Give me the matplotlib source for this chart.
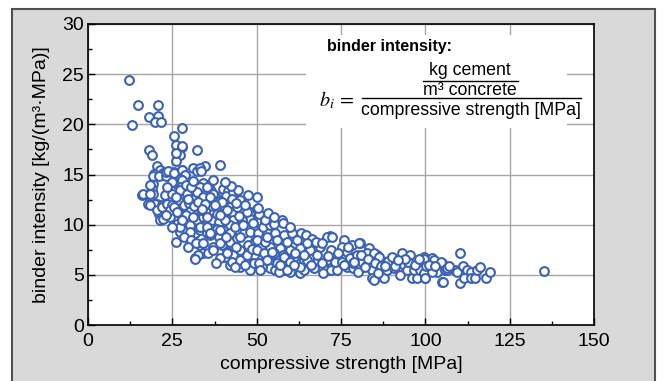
import matplotlib
matplotlib.use("Agg")
import matplotlib.pyplot as plt
from matplotlib.patches import Rectangle
from matplotlib.ticker import MultipleLocator

plt.rcParams['font.family'] = ['Liberation Sans', 'DejaVu Sans']

# compressive strength [MPa], binder intensity [kg/(m3*MPa)]
pts = [
    # low strength, sparse top
    (12.3, 24.4), (13.0, 19.9), (14.9, 21.9), (20.8, 21.9), (18.0, 20.7), (20.8, 20.8),
    (19.8, 20.2), (21.5, 20.2), (18.2, 17.4), (18.9, 16.9), (20.4, 15.8), (21.2, 15.45),
    (19.7, 15.05), (22.2, 15.1), (16.1, 13.0), (16.4, 13.05), (18.4, 12.45), (19.4, 14.1),
    (18.9, 13.6), (19.4, 13.1), (20.4, 12.1), (17.9, 12.1), (19.9, 12.1), (21.9, 12.0),
    (18.4, 12.0), (20.9, 11.1), (21.4, 10.5), (22.3, 10.6), (18.5, 14.0), (18.5, 13.1),
    (19.3, 14.9), (21.0, 14.9), (23.0, 14.9), (23.1, 15.25), (25.6, 15.2), (27.9, 15.4),
    (26.6, 14.9), (20.4, 11.5), (22.0, 11.8),
    # 24-35 MPa
    (28.0, 19.6), (25.6, 18.8), (26.0, 17.9), (28.0, 17.7), (27.3, 16.9), (26.1, 16.3),
    (32.2, 17.4), (26.1, 17.1), (27.8, 17.8), (23.8, 15.3), (25.5, 15.1), (27.8, 15.45),
    (28.8, 14.95), (31.2, 15.6), (32.2, 15.3), (34.7, 15.8), (33.2, 15.6), (33.6, 15.3),
    (27.3, 14.6), (27.8, 14.3), (26.3, 14.1), (27.0, 14.2), (28.0, 14.5), (27.5, 13.8),
    (34.2, 14.2), (33.1, 13.8), (22.8, 12.95), (24.8, 13.1), (27.3, 13.45), (26.8, 12.45),
    (29.3, 13.1), (30.8, 12.6), (32.2, 13.3), (34.2, 12.8), (23.4, 12.1), (24.8, 12.0),
    (24.3, 10.8), (26.3, 10.1), (27.3, 9.3), (29.3, 9.5), (30.3, 10.0), (31.8, 9.15),
    (33.2, 9.5), (34.7, 10.0), (35.2, 9.15), (26.1, 8.3), (33.2, 8.0), (34.2, 7.15),
    (31.8, 6.65), (32.7, 7.0), (31.8, 6.55), (27.3, 11.1), (30.3, 11.5), (32.3, 10.5),
    (24.3, 11.5), (27.3, 9.8), (30.3, 9.3), (33.2, 9.8), (25.5, 11.8), (28.5, 12.0),
    (30.0, 12.2), (26.0, 12.8), (29.0, 11.0), (31.0, 10.8), (28.0, 10.5), (25.0, 9.8),
    (28.5, 8.8), (30.5, 8.5), (32.0, 8.2), (29.5, 7.8), (34.0, 10.8), (33.5, 11.5),
    (31.5, 11.9), (35.0, 11.3), (34.0, 11.8), (29.0, 14.0), (30.5, 13.8), (25.0, 14.3),
    (23.5, 13.8), (31.0, 14.4), (29.5, 12.6), (26.5, 11.3), (23.0, 11.0), (32.5, 12.3),
    # 35-50 MPa
    (35.9, 13.8), (36.4, 13.4), (37.6, 12.9), (39.9, 13.6), (41.6, 13.4), (41.0, 12.9),
    (42.8, 12.5), (39.1, 12.4), (40.0, 12.0), (39.2, 15.9), (35.2, 13.8), (37.2, 13.1),
    (36.2, 12.8), (34.7, 12.1), (33.7, 11.6), (43.1, 13.3), (42.6, 12.6), (45.1, 12.5),
    (39.7, 12.3), (42.1, 11.8), (42.6, 11.3), (46.1, 11.5), (48.1, 11.3), (50.1, 11.6),
    (50.6, 11.1), (48.1, 10.6), (45.6, 10.5), (43.1, 10.5), (42.1, 10.0), (37.2, 11.1),
    (36.7, 10.5), (38.7, 10.3), (35.2, 9.8), (38.2, 9.6), (40.1, 9.5), (36.2, 9.0),
    (38.7, 8.8), (34.2, 8.15), (37.2, 7.8), (39.7, 8.0), (42.1, 8.3), (44.1, 8.65),
    (46.1, 9.15), (49.1, 9.5), (41.2, 7.3), (43.1, 7.0), (45.1, 7.5), (46.6, 6.5),
    (49.1, 7.0), (45.1, 5.8), (42.1, 6.0), (48.1, 5.5), (40.6, 6.8), (39.1, 6.65),
    (35.7, 7.15), (37.2, 7.5), (39.2, 8.15), (41.2, 7.15), (42.6, 6.3), (45.1, 6.5),
    (47.1, 7.0), (49.1, 6.15), (35.2, 10.8), (38.2, 11.1), (41.2, 11.5), (44.1, 11.8),
    (47.1, 11.3), (36.2, 9.15), (39.2, 9.5), (42.1, 9.15), (45.1, 8.8), (48.1, 9.3),
    (50.5, 11.7), (44.0, 12.2), (46.5, 12.0), (47.5, 13.0), (44.5, 13.5), (43.5, 9.8),
    (46.0, 10.0), (40.5, 10.5), (37.5, 12.0), (39.0, 11.0), (41.0, 8.8), (44.0, 7.8),
    (47.5, 8.0), (49.5, 8.4), (38.0, 6.2), (43.5, 5.8), (46.5, 6.0), (48.5, 7.6),
    (42.5, 13.9), (40.5, 14.3), (37.0, 14.5), (44.8, 10.9), (49.0, 10.2), (50.0, 12.8),
    # 50-70 MPa
    (52.5, 10.3), (57.5, 10.5), (57.9, 10.2), (50.5, 9.15), (53.0, 9.3), (55.5, 9.15),
    (58.0, 9.0), (60.5, 9.15), (63.0, 9.15), (64.5, 9.0), (66.5, 8.6), (52.0, 9.8),
    (54.0, 10.0), (55.0, 10.1), (52.5, 10.5), (51.5, 6.15), (54.0, 6.3), (56.5, 6.65),
    (59.0, 6.5), (61.0, 6.8), (63.9, 6.5), (65.9, 6.65), (67.9, 6.3), (70.8, 6.5),
    (54.0, 7.8), (56.9, 7.65), (59.9, 7.5), (62.9, 7.65), (65.9, 7.5), (68.8, 7.8),
    (50.1, 7.5), (52.1, 7.15), (55.0, 7.15), (57.9, 7.0), (50.1, 8.5), (52.6, 8.3),
    (56.0, 8.5), (59.0, 8.3), (62.0, 8.5), (65.0, 8.15), (67.5, 8.3), (54.0, 5.65),
    (55.5, 5.5), (58.0, 5.5), (59.9, 5.3), (62.9, 5.15), (63.9, 5.5), (51.5, 5.8),
    (56.5, 5.3), (50.6, 6.15), (53.0, 6.5), (54.5, 7.3), (56.0, 6.15), (58.0, 6.8),
    (59.9, 6.3), (62.9, 5.8), (64.9, 6.5), (66.9, 5.65), (69.3, 6.15), (70.8, 5.5),
    (59.0, 5.5), (51.0, 5.5), (69.8, 5.15), (71.8, 8.9), (70.8, 8.8), (69.3, 8.15),
    (53.5, 11.2), (55.0, 10.8), (60.0, 9.8), (61.5, 7.2), (64.0, 7.0), (57.0, 6.0),
    (66.0, 6.0), (68.0, 7.0), (53.0, 8.8), (61.0, 6.0),
    # 70-90 MPa
    (75.8, 8.5), (78.2, 8.0), (80.7, 8.15), (83.2, 7.65), (82.7, 7.15), (75.3, 7.8),
    (76.8, 7.3), (77.7, 6.65), (79.7, 7.0), (85.7, 7.0), (87.6, 6.3), (84.7, 5.0),
    (85.2, 4.65), (87.6, 4.65), (71.9, 5.5), (73.9, 5.5), (76.8, 5.8), (78.7, 5.65),
    (80.7, 5.65), (73.8, 6.8), (73.3, 6.3), (75.3, 6.3), (78.7, 6.15), (81.2, 6.3),
    (82.7, 6.0), (84.2, 5.5), (86.6, 5.65), (88.6, 5.5), (72.3, 8.8), (80.2, 8.15),
    (84.7, 7.15), (86.2, 6.8), (84.2, 4.65), (84.7, 4.5), (72.0, 7.5), (74.0, 7.2),
    (77.0, 7.8), (79.0, 6.3), (81.0, 7.0), (83.0, 6.6), (85.0, 6.2), (87.0, 5.9),
    (89.0, 6.4), (71.0, 6.9), (76.0, 6.0), (80.0, 5.3), (82.0, 5.8), (86.0, 5.2),
    (88.0, 5.9),
    # 90-120 MPa and the outlier
    (90.1, 6.8), (93.1, 7.15), (95.5, 7.0), (92.6, 5.0), (96.0, 4.65), (97.5, 4.65),
    (100.0, 4.65), (96.5, 5.65), (99.5, 5.8), (102.0, 6.15), (105.0, 6.0), (105.0, 4.3),
    (90.6, 5.65), (91.6, 6.15), (93.6, 6.0), (94.6, 5.5), (96.5, 5.5), (98.5, 5.5),
    (99.5, 5.15), (102.0, 5.5), (103.4, 5.3), (105.9, 5.5), (99.5, 6.8), (102.0, 6.65),
    (105.0, 6.15), (110.2, 7.15), (99.7, 6.55), (102.5, 6.5), (104.5, 6.25),
    (100.3, 5.85), (102.0, 5.3), (99.9, 4.65), (105.1, 4.25), (106.3, 5.5), (108.7, 5.5),
    (109.4, 5.3), (111.2, 5.9), (112.4, 5.5), (113.4, 5.3), (110.2, 4.15), (111.6, 4.65),
    (113.4, 4.65), (114.7, 4.65), (115.3, 5.5), (116.3, 5.8), (118.1, 4.65),
    (119.1, 5.25), (106.4, 5.7), (135.1, 5.4), (91.0, 5.9), (95.0, 6.3), (97.0, 6.0),
    (98.0, 6.6), (101.0, 6.0), (103.0, 5.9), (107.0, 5.9), (94.0, 6.6), (92.0, 6.5),
]
strength = [p[0] for p in pts]
intensity = [p[1] for p in pts]

fig = plt.figure(figsize=(6.68, 3.81), dpi=100)
fig.patch.set_facecolor('white')
# grey panel with dark frame behind the chart
fig.patches.append(Rectangle((12 / 668, -0.01), 643 / 668, 1.01 - 9 / 381,
                             transform=fig.transFigure, facecolor='#d9d9d9',
                             edgecolor='#505050', linewidth=1.5, zorder=-5))

ax = fig.add_axes([88 / 668, 56 / 381, 506 / 668, 301 / 381])
ax.set_zorder(2)
ax.set_facecolor('white')
ax.set_axisbelow(True)

ax.scatter(strength, intensity, s=40, facecolors='white', edgecolors='#3c63b3',
           linewidths=1.5, zorder=3)

ax.set_xlim(0, 150)
ax.set_ylim(0, 30)
ax.xaxis.set_major_locator(MultipleLocator(25))
ax.xaxis.set_minor_locator(MultipleLocator(12.5))
ax.yaxis.set_major_locator(MultipleLocator(5))
ax.yaxis.set_minor_locator(MultipleLocator(2.5))
ax.grid(True, which='major', color='#a6a6a6', linewidth=1.0)
ax.tick_params(which='both', direction='in', labelsize=14, top=False, right=False)
ax.tick_params(which='major', length=5, width=1)
ax.tick_params(which='minor', length=3, width=1)
ax.tick_params(axis='x', which='major', pad=6)
ax.tick_params(axis='y', which='major', pad=3)
for s in ax.spines.values():
    s.set_linewidth(1.2)
    s.set_color('black')

ax.set_xlabel('compressive strength [MPa]', fontsize=14, labelpad=4)
ax.set_ylabel('binder intensity [kg/(m³·MPa)]', fontsize=14, labelpad=9)

# formula box
ax.add_patch(Rectangle((64.6, 19.6), 77.4, 9.3, facecolor='white', edgecolor='none', zorder=1))
ax.text(70.9, 27.8, 'binder intensity:', fontsize=11.5, fontweight='bold', ha='left', va='center', zorder=4)
ax.text(73.8, 22.45, r'$b_i\,=$', fontsize=14.5, ha='center', va='center', math_fontfamily='stix', zorder=4)
ax.text(113.3, 25.35, 'kg cement', fontsize=12.8, ha='center', va='center', zorder=4)
ax.plot([99.3, 127.5], [24.35, 24.35], color='black', lw=1, zorder=4)
ax.text(113.3, 23.4, 'm³ concrete', fontsize=12.8, ha='center', va='center', zorder=4)
ax.plot([81.2, 146.0], [22.6, 22.6], color='black', lw=1, zorder=4)
ax.text(113.6, 21.4, 'compressive strength [MPa]', fontsize=12.8, ha='center', va='center', zorder=4)

fig.savefig('out.png', dpi=100)
